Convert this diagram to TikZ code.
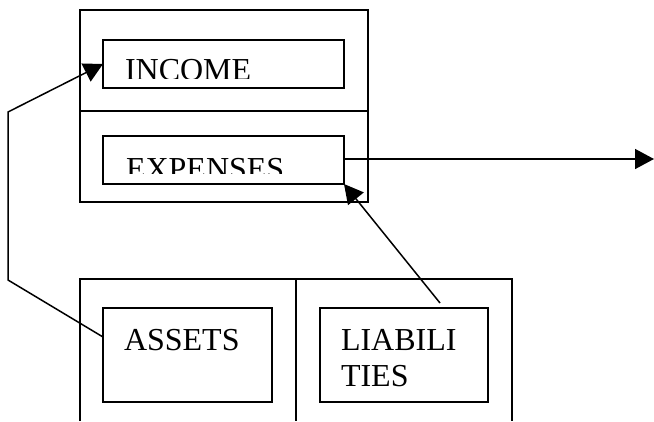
\documentclass[tikz,border=0pt]{standalone}
\usepackage{fontspec}
\setmainfont{Liberation Serif}
\usetikzlibrary{arrows.meta}

\begin{document}
\begin{tikzpicture}
  [x=1pt,y=-1pt,line width=1.5pt,>={Triangle[length=19pt,width=20pt]},
  every node/.style={inner sep=0pt,outer sep=0pt},
  account/.style={draw,minimum width=#1},
  wide account/.style={account=241pt,minimum height=48pt},
  low account/.style={minimum height=94pt},
  caption/.style={anchor=base west,align=left,font=\fontsize{32}{36}\selectfont}]
  \useasboundingbox (0,0) rectangle (654,421);
  % frames
  \draw (80,10) rectangle (368,202);
  \draw (80,111) -- (368,111);
  \draw (80,421) -- (80,279) -- (512,279) -- (512,421);
  \draw (296,279) -- (296,421);
  % accounts
  \node[wide account] (income) at (223.5,64) {};
  \node[wide account] (expenses) at (223.5,160) {};
  \node[account=169pt,low account] (assets) at (187.5,355) {};
  \node[account=168pt,low account] (liabilities) at (404,355) {};
  \begin{scope}
    \clip (103,40) rectangle (344,78);
    \node[caption] (income text) at (125,80) {INCOME};
  \end{scope}
  \begin{scope}
    \clip (103,136) rectangle (344,173);
    \node[caption] (expenses text) at (126,179) {EXPENSES};
  \end{scope}
  \node[caption] (assets text) at (124,350) {ASSETS};
  \node[caption] (liabilities text) at (341,386) {LIABILI\\TIES};
  % flows
  \coordinate (assets out) at (103,337);
  \coordinate (liabilities out) at (440,303);
  \coordinate (outflow) at (654,159);
  \draw[->] (assets out) -- (8,280) -- (8,112) -- (income.west);
  \draw[->] (expenses.east |- outflow) -- (outflow);
  \draw[->] (liabilities out) -- (expenses.south east);
\end{tikzpicture}
\end{document}
